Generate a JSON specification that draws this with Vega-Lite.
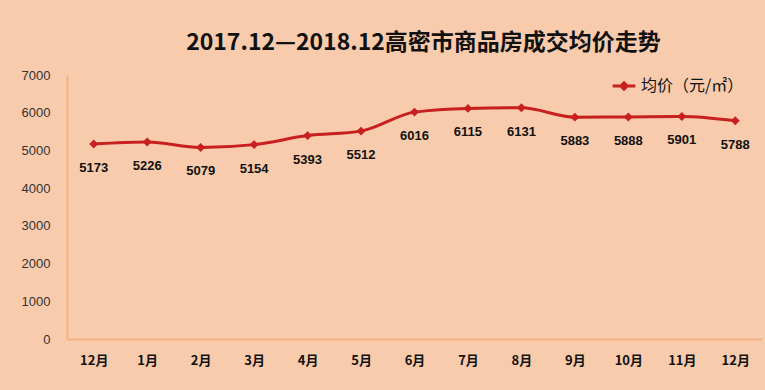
{
  "$schema": "https://vega.github.io/schema/vega-lite/v6.json",
  "autosize": "none",
  "width": 695,
  "height": 264,
  "padding": {"left": 67, "top": 75, "right": 3, "bottom": 51},
  "background": "#F8CBAD",
  "title": {
    "text": "2017.12—2018.12高密市商品房成交均价走势",
    "font": "Noto Sans CJK SC",
    "fontSize": 23,
    "fontWeight": "bold",
    "color": "#111111",
    "anchor": "middle",
    "dx": 9,
    "offset": 14
  },
  "data": {
    "values": [
      {"month": "2017年12月", "price": 5173, "series": "均价（元/㎡）"},
      {"month": "2018年1月", "price": 5226, "series": "均价（元/㎡）"},
      {"month": "2018年2月", "price": 5079, "series": "均价（元/㎡）"},
      {"month": "2018年3月", "price": 5154, "series": "均价（元/㎡）"},
      {"month": "2018年4月", "price": 5393, "series": "均价（元/㎡）"},
      {"month": "2018年5月", "price": 5512, "series": "均价（元/㎡）"},
      {"month": "2018年6月", "price": 6016, "series": "均价（元/㎡）"},
      {"month": "2018年7月", "price": 6115, "series": "均价（元/㎡）"},
      {"month": "2018年8月", "price": 6131, "series": "均价（元/㎡）"},
      {"month": "2018年9月", "price": 5883, "series": "均价（元/㎡）"},
      {"month": "2018年10月", "price": 5888, "series": "均价（元/㎡）"},
      {"month": "2018年11月", "price": 5901, "series": "均价（元/㎡）"},
      {"month": "2018年12月", "price": 5788, "series": "均价（元/㎡）"}
    ]
  },
  "encoding": {
    "x": {
      "field": "month",
      "type": "ordinal",
      "sort": null,
      "scale": {"paddingInner": 1, "paddingOuter": 0.5},
      "axis": {
        "title": null,
        "labelAngle": 0,
        "labelExpr": "replace(datum.value, /^[0-9]+年/, '')",
        "labelFont": "Noto Sans CJK SC",
        "labelFontSize": 13,
        "labelFontWeight": "bold",
        "labelColor": "#111111",
        "labelPadding": 15,
        "ticks": false,
        "domainColor": "#F4B183",
        "domainWidth": 2
      }
    },
    "y": {
      "field": "price",
      "type": "quantitative",
      "scale": {"domain": [0, 7000]},
      "axis": {
        "title": null,
        "format": "d",
        "values": [0, 1000, 2000, 3000, 4000, 5000, 6000, 7000],
        "grid": false,
        "ticks": false,
        "labelFont": "Liberation Sans",
        "labelFontSize": 13,
        "labelColor": "#333333",
        "labelPadding": 17,
        "domainColor": "#F4B183",
        "domainWidth": 2
      }
    }
  },
  "layer": [
    {
      "mark": {
        "type": "line",
        "interpolate": "monotone",
        "strokeWidth": 3,
        "point": {"shape": "diamond", "size": 80, "filled": true, "color": "#D01818", "opacity": 1}
      },
      "encoding": {
        "color": {
          "field": "series",
          "type": "nominal",
          "scale": {"range": ["#C81F1F"]},
          "legend": {
            "title": null,
            "orient": "none",
            "legendX": 548,
            "legendY": 2,
            "symbolType": "M-1.6,0H1.6M0,-0.45L0.45,0L0,0.45L-0.45,0Z",
            "symbolSize": 200,
            "symbolStrokeWidth": 3,
            "symbolFillColor": "#D01818",
            "symbolStrokeColor": "#C81F1F",
            "labelFont": "Noto Sans CJK SC",
            "labelFontSize": 16,
            "labelColor": "#111111",
            "labelOffset": 8
          }
        }
      }
    },
    {
      "mark": {
        "type": "text",
        "dy": 24,
        "font": "Liberation Sans",
        "fontSize": 13,
        "fontWeight": "bold",
        "color": "#111111"
      },
      "encoding": {
        "text": {"field": "price", "type": "quantitative", "format": "d"}
      }
    }
  ],
  "config": {
    "view": {"stroke": null}
  }
}
